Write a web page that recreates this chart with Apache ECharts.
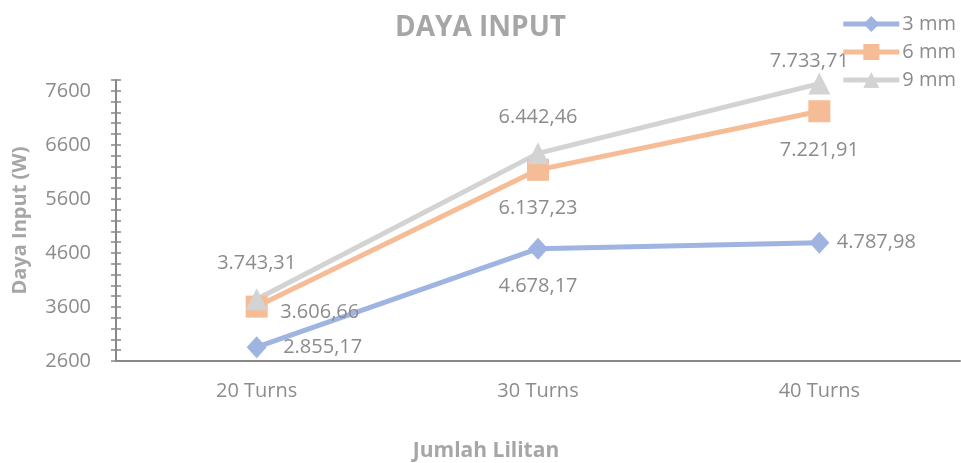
<!DOCTYPE html>
<html>
<head>
<meta charset="utf-8">
<script src="https://cdn.jsdelivr.net/npm/echarts@6/dist/echarts.min.js"></script>
<style>
  html, body { margin: 0; padding: 0; background: #fff; }
  #chart { width: 961px; height: 463px; }
</style>
</head>
<body>
<div id="chart"></div>
<script>
// data
var categories = ['20 Turns', '30 Turns', '40 Turns'];
var seriesNames = ['3 mm', '6 mm', '9 mm'];
var data3mm = [2855.17, 4678.17, 4787.98];
var data6mm = [3606.66, 6137.23, 7221.91];
var data9mm = [3743.31, 6442.46, 7733.71];
var yTicks = [2600, 3600, 4600, 5600, 6600, 7600];

var font = '"Open Sans", "Liberation Sans", sans-serif';
var textGray = '#8c8c8c';
var axisGray = '#888888';

// 1.234,56 style
function fmt(v) {
  var parts = v.toFixed(2).split('.');
  parts[0] = parts[0].replace(/\B(?=(\d{3})+(?!\d))/g, '.');
  return parts[0] + ',' + parts[1];
}

function makeSeries(name, values, color, symbol, size, offsets) {
  return {
    name: name,
    type: 'line',
    data: values.map(function (v, i) {
      return {
        value: v,
        label: { offset: offsets[i] }
      };
    }),
    symbol: symbol,
    symbolSize: size,
    lineStyle: { color: color, width: 5 },
    itemStyle: { color: color },
    label: {
      show: true,
      position: 'inside',
      formatter: function (p) { return fmt(p.value); },
      color: textGray,
      fontFamily: font,
      fontSize: 20
    },
    emphasis: { disabled: true }
  };
}

var myChart = echarts.init(document.getElementById('chart'));

var option = {
  animation: false,
  title: {
    text: 'DAYA INPUT',
    left: 'center',
    top: 9,
    textStyle: { color: '#a6a6a6', fontFamily: font, fontSize: 28, fontWeight: 'bold' }
  },
  legend: {
    orient: 'vertical',
    right: 0,
    top: 9,
    itemWidth: 56,
    itemHeight: 20,
    itemGap: 8,
    data: seriesNames,
    lineStyle: { width: 5 },
    textStyle: { color: textGray, fontFamily: font, fontSize: 20, padding: [0, 0, 0, -2] }
  },
  grid: { left: 116, right: 1, top: 80, bottom: 102, outerBoundsMode: 'none', containLabel: false },
  xAxis: [
    {
      type: 'category',
      data: categories,
      boundaryGap: true,
      position: 'bottom',
      name: 'Jumlah Lilitan',
      nameLocation: 'middle',
      nameGap: 80,
      nameTextStyle: { color: '#a6a6a6', fontFamily: font, fontSize: 21, fontWeight: 'bold', padding: [0, 104, 0, 0] },
      axisLine: { lineStyle: { color: axisGray, width: 2 } },
      axisTick: { interval: 0, length: 6, lineStyle: { color: axisGray, width: 1.5 } },
      axisLabel: { color: textGray, fontFamily: font, fontSize: 20, margin: 20 }
    },
    {
      type: 'category',
      data: categories,
      boundaryGap: true,
      position: 'bottom',
      axisLine: { show: false },
      axisTick: { alignWithLabel: true, length: 6, lineStyle: { color: axisGray, width: 1.5 } },
      axisLabel: { show: false }
    },
    {
      type: 'category',
      data: categories,
      boundaryGap: true,
      position: 'bottom',
      axisLine: { show: false },
      axisTick: { alignWithLabel: true, inside: true, length: 6, lineStyle: { color: axisGray, width: 1.5 } },
      axisLabel: { show: false }
    }
  ],
  yAxis: [
    {
      type: 'value',
      min: 2600,
      max: 7800,
      interval: 200,
      name: 'Daya Input (W)',
      nameLocation: 'middle',
      nameGap: 86,
      nameTextStyle: { color: '#a6a6a6', fontFamily: font, fontSize: 20, fontWeight: 'bold' },
      splitLine: { show: false },
      axisLine: { show: true, lineStyle: { color: axisGray, width: 2 } },
      axisTick: { show: true, length: 5, lineStyle: { color: axisGray, width: 1.5 } },
      axisLabel: {
        color: textGray,
        fontFamily: font,
        fontSize: 20,
        margin: 25,
        formatter: function (v) { return yTicks.indexOf(v) >= 0 ? String(v) : ''; }
      }
    },
    {
      type: 'value',
      min: 2600,
      max: 7800,
      interval: 200,
      position: 'left',
      splitLine: { show: false },
      axisLine: { show: false },
      axisTick: { show: true, inside: true, length: 5, lineStyle: { color: axisGray, width: 1.5 } },
      axisLabel: { show: false }
    }
  ],
  series: [
    makeSeries(seriesNames[0], data3mm, '#9fb4e1', 'diamond', [20, 22], [[66, 0], [0, 38], [57, 0]]),
    makeSeries(seriesNames[1], data6mm, '#f5bc96', 'rect', 22, [[63, 6], [0, 38], [0, 39]]),
    makeSeries(seriesNames[2], data9mm, '#d3d3d3', 'triangle', 22, [[0, -36], [0, -36], [-10, -22]])
  ]
};

myChart.setOption(option);
</script>
</body>
</html>
